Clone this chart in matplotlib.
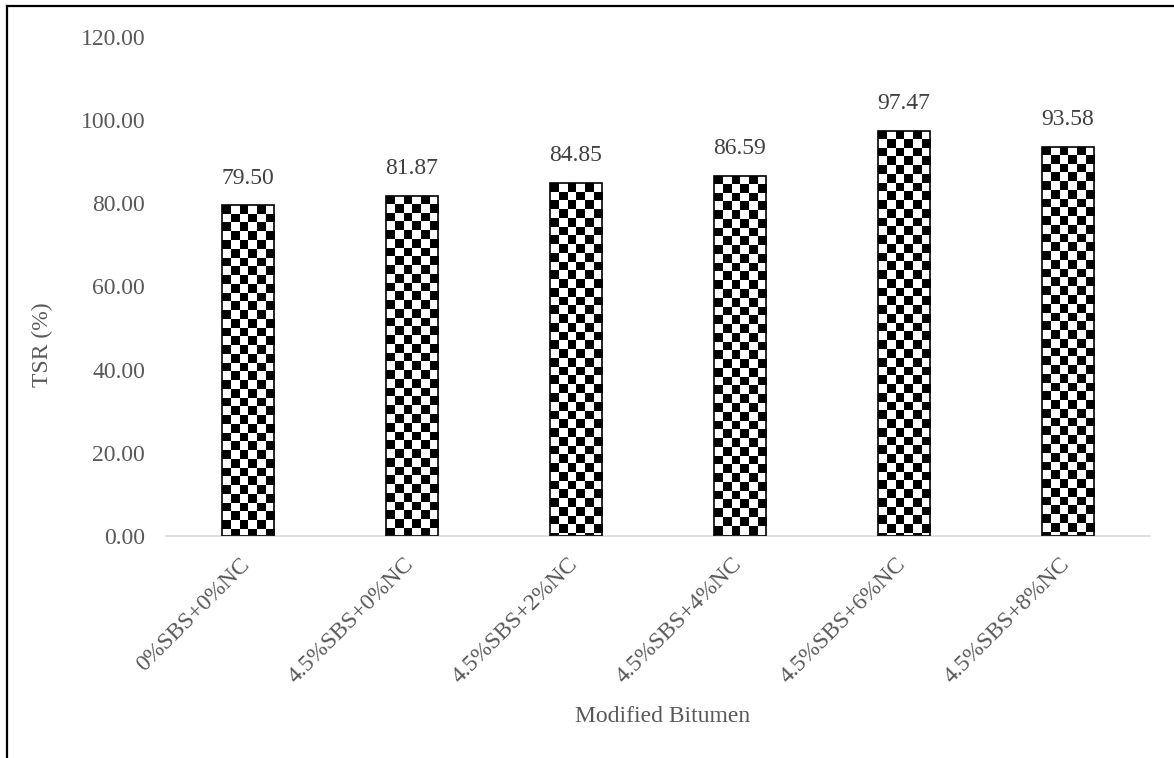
import numpy as np
import matplotlib.pyplot as plt
from matplotlib.lines import Line2D
from matplotlib.transforms import ScaledTranslation

categories = ['0%SBS+0%NC', '4.5%SBS+0%NC', '4.5%SBS+2%NC',
              '4.5%SBS+4%NC', '4.5%SBS+6%NC', '4.5%SBS+8%NC']
tsr = [79.50, 81.87, 84.85, 86.59, 97.47, 93.58]
yticks = [0, 20, 40, 60, 80, 100, 120]

plt.rcParams['font.family'] = ['Liberation Serif', 'DejaVu Serif']

W, H, DPI = 1174, 758, 100
fig = plt.figure(figsize=(W / DPI, H / DPI), dpi=DPI)
ax = fig.add_axes([166 / W, 222 / H, 984 / W, 499 / H])

x = np.arange(len(categories))
bar_w = 0.32
bars = ax.bar(x, tsr, width=bar_w, facecolor='none', edgecolor='black',
              linewidth=1.2, zorder=3)

ax.set_xlim(-0.5, len(categories) - 0.5)
ax.set_ylim(0, 120)

# checkerboard fill, six square cells across each bar
fig.canvas.draw()
px_per_x = ax.transData.transform((1, 0))[0] - ax.transData.transform((0, 0))[0]
px_per_y = ax.transData.transform((0, 1))[1] - ax.transData.transform((0, 0))[1]
cols = 6
for rect, v in zip(bars, tsr):
    x0 = rect.get_x()
    w_px = rect.get_width() * px_per_x
    cell = w_px / cols
    rows = int(np.ceil(v * px_per_y / cell))
    ii, jj = np.indices((rows, cols))
    board = ((ii + jj) % 2).astype(float)
    top = rows * cell / px_per_y
    im = ax.imshow(board, cmap='gray', vmin=0, vmax=1, origin='upper',
                   extent=(x0, x0 + rect.get_width(), v - top, v),
                   interpolation='nearest', aspect='auto', zorder=2)
    im.set_clip_path(rect)

ax.set_ylim(0, 120)
ax.set_xlim(-0.5, len(categories) - 0.5)

for xi, v in zip(x, tsr):
    ax.annotate(f'{v:.2f}', (xi, v), xytext=(0, 12), textcoords='offset points',
                ha='center', va='bottom', fontsize=17, color='#404040')

ax.set_yticks(yticks)
ax.set_yticklabels([f'{t:.2f}' for t in yticks])
ax.set_xticks(x)
ax.set_xticklabels(categories, rotation=45, ha='right', va='top',
                   rotation_mode='anchor')
ax.tick_params(axis='y', length=0, pad=15, labelsize=17, labelcolor='#595959')
ax.tick_params(axis='x', length=0, pad=13, labelsize=17, labelcolor='#595959')

# nudge the slanted category labels a little to the left
shift = ScaledTranslation(-9 / DPI, 0, fig.dpi_scale_trans)
for lbl in ax.get_xticklabels():
    lbl.set_transform(lbl.get_transform() + shift)

for s in ['top', 'right', 'left']:
    ax.spines[s].set_visible(False)
ax.spines['bottom'].set_color('#d9d9d9')
ax.spines['bottom'].set_linewidth(1.2)

fig.text(42 / W, 1 - 345 / H, 'TSR (%)', rotation=90, ha='center', va='center',
         fontsize=17, color='#595959')
fig.text(663 / W, 1 - 717 / H, 'Modified Bitumen', ha='center', va='center',
         fontsize=17, color='#595959')

# outer frame (left and top edges)
fig.add_artist(Line2D([6.5 / W, 6.5 / W], [0, 1 - 5.5 / H],
                      transform=fig.transFigure, color='black', linewidth=1.6))
fig.add_artist(Line2D([6.5 / W, 1], [1 - 5.5 / H, 1 - 5.5 / H],
                      transform=fig.transFigure, color='black', linewidth=1.6))

fig.savefig('out.png', dpi=DPI)
